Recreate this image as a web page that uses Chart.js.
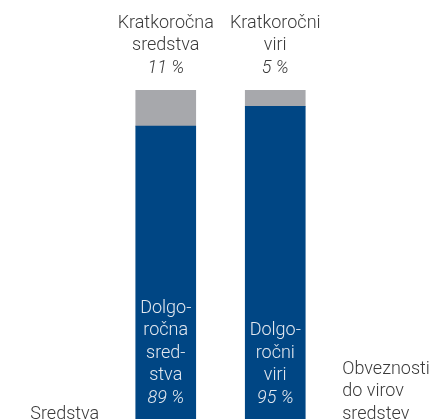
<!DOCTYPE html>
<html>
<head>
<meta charset="utf-8">
<script src="https://cdn.jsdelivr.net/npm/chart.js@4/dist/chart.umd.min.js"></script>
<style>
  html, body { margin: 0; padding: 0; background: #ffffff; }
  #wrap { width: 438px; height: 419px; }
</style>
</head>
<body>
<div id="wrap"><canvas id="myChart"></canvas></div>
<script>
// categories and shares (%)
const categories = ["Sredstva", "Obveznosti do virov sredstev"];
const longTerm = [89, 95];
const shortTerm = [11, 5];

// labels drawn inside / above the bars
const innerLabels = [["Dolgo-", "ročna", "sred-", "stva"], ["Dolgo-", "ročni", "viri"]];
const topLabels = [["Kratkoročna", "sredstva"], ["Kratkoročni", "viri"]];
const sideLabels = [["Sredstva"], ["Obveznosti", "do virov", "sredstev"]];

const FONT = "Roboto";
const SIZE = "18px ";
const LINE = 22.5;

const labelPlugin = {
    id: "barLabels",
    afterDatasetsDraw(chart) {
        const ctx = chart.ctx;
        const blue = chart.getDatasetMeta(0).data;
        const grey = chart.getDatasetMeta(1).data;
        ctx.save();
        ctx.textBaseline = "middle";

        blue.forEach((bar, i) => {
            const x = bar.x;
            const bottom = bar.base;
            // inside the blue part, anchored at the bottom
            const lines = innerLabels[i];
            let y = bottom - 21;
            ctx.textAlign = "center";
            ctx.fillStyle = "#e3e8ef";
            ctx.font = "italic 300 " + SIZE + FONT;
            ctx.fillText(longTerm[i] + " %", x, y);
            ctx.font = "300 " + SIZE + FONT;
            for (let k = lines.length - 1; k >= 0; k--) {
                y -= LINE;
                ctx.fillText(lines[k], x, y);
            }

            // above the grey part
            const top = grey[i].y;
            const tl = topLabels[i];
            let ty = top - 22;
            ctx.fillStyle = "#3a3a3a";
            ctx.font = "italic 300 " + SIZE + FONT;
            ctx.fillText(shortTerm[i] + " %", x, ty);
            ctx.font = "300 " + SIZE + FONT;
            for (let k = tl.length - 1; k >= 0; k--) {
                ty -= LINE;
                ctx.fillText(tl[k], x, ty);
            }
        });

        // category captions at the sides
        ctx.fillStyle = "#3a3a3a";
        ctx.font = "300 " + SIZE + FONT;
        const b0 = blue[0], b1 = blue[1];
        const half0 = b0.width / 2, half1 = b1.width / 2;
        ctx.textAlign = "center";
        let sy = b0.base - 5;
        for (let k = sideLabels[0].length - 1; k >= 0; k--) {
            ctx.fillText(sideLabels[0][k], b0.x - half0 - 71, sy);
            sy -= LINE;
        }
        ctx.textAlign = "left";
        sy = b1.base - 5;
        for (let k = sideLabels[1].length - 1; k >= 0; k--) {
            ctx.fillText(sideLabels[1][k], b1.x + half1 + 37, sy);
            sy -= LINE;
        }
        ctx.restore();
    }
};

const canvas = document.getElementById("myChart");
const context = canvas.getContext("2d");

new Chart(context, {
    type: "bar",
    data: {
        labels: categories,
        datasets: [
            {
                label: "Dolgoročno",
                data: longTerm,
                backgroundColor: "#004684",
                barThickness: 60
            },
            {
                label: "Kratkoročno",
                data: shortTerm,
                backgroundColor: "#a7a8ac",
                barThickness: 60
            }
        ]
    },
    options: {
        responsive: true,
        maintainAspectRatio: false,
        animation: false,
        layout: { padding: { left: 111, right: 108, top: 90, bottom: 0 } },
        plugins: {
            legend: { display: false },
            tooltip: { enabled: false }
        },
        scales: {
            x: { stacked: true, display: false },
            y: { stacked: true, display: false, min: 0, max: 100 }
        }
    },
    plugins: [labelPlugin]
});
</script>
</body>
</html>
